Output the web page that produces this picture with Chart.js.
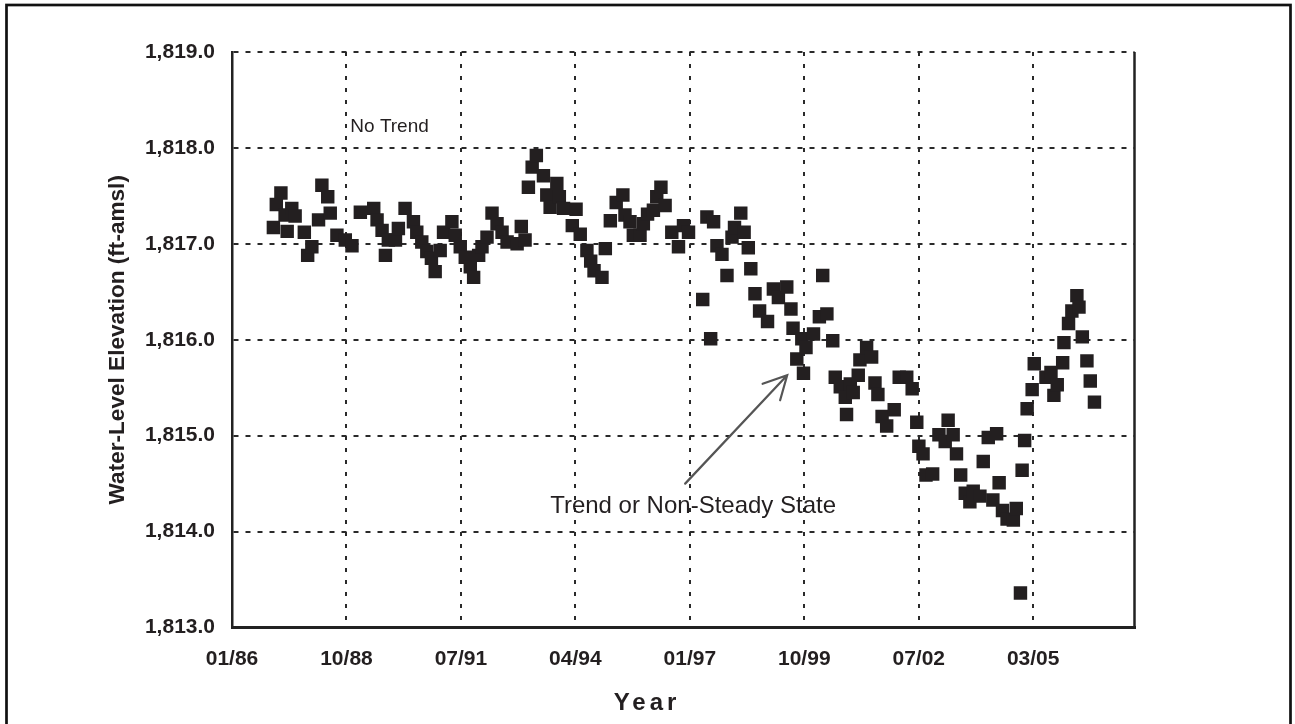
<!DOCTYPE html>
<html>
<head>
<meta charset="utf-8">
<script src="https://cdn.jsdelivr.net/npm/chart.js@4.4.1/dist/chart.umd.min.js"></script>
<style>
  html, body { margin: 0; padding: 0; background: #fff; }
  canvas { display: block; }
</style>
</head>
<body>
<canvas id="wl" width="1295" height="724"></canvas>
<script>
// Monitoring-well record: sample date (decimal year) and water-level elevation (ft-amsl)
const sampleYears = [
  1987.06, 1987.13, 1987.24, 1987.34, 1987.39, 1987.50, 1987.58, 1987.80, 1987.88, 1987.98,
  1988.14, 1988.22, 1988.36, 1988.42, 1988.58, 1988.78, 1988.94, 1989.14, 1989.46, 1989.54,
  1989.66, 1989.74, 1989.81, 1989.98, 1990.05, 1990.21, 1990.41, 1990.49, 1990.61, 1990.73,
  1990.84, 1990.93, 1991.05, 1991.13, 1991.33, 1991.41, 1991.53, 1991.65, 1991.77, 1991.85,
  1991.97, 1992.05, 1992.17, 1992.29, 1992.41, 1992.53, 1992.65, 1992.89, 1992.99, 1993.08,
  1993.16, 1993.25, 1993.35, 1993.52, 1993.60, 1993.68, 1993.84, 1993.90, 1994.00, 1994.21,
  1994.30, 1994.40, 1994.56, 1994.65, 1994.73, 1994.92, 1995.00, 1995.12, 1995.26, 1995.42,
  1995.47, 1995.59, 1995.67, 1995.83, 1995.91, 1996.01, 1996.15, 1996.23, 1996.33, 1996.43,
  1996.59, 1996.75, 1996.87, 1996.99, 1997.33, 1997.43, 1997.52, 1997.59, 1997.67, 1997.79,
  1997.91, 1998.03, 1998.09, 1998.24, 1998.32, 1998.42, 1998.48, 1998.58, 1998.69, 1998.88,
  1999.02, 1999.14, 1999.34, 1999.44, 1999.49, 1999.58, 1999.70, 1999.74, 1999.80, 1999.98,
  2000.12, 2000.20, 2000.30, 2000.44, 2000.50, 2000.62, 2000.74, 2000.77, 2000.86, 2000.93,
  2001.05, 2001.09, 2001.25, 2001.37, 2001.45, 2001.52, 2001.62, 2001.73, 2001.91, 2002.03,
  2002.21, 2002.34, 2002.45, 2002.50, 2002.60, 2002.67, 2002.83, 2002.98, 2003.13, 2003.20,
  2003.32, 2003.40, 2003.50, 2003.61, 2003.72, 2003.80, 2003.96, 2004.04, 2004.16, 2004.27,
  2004.36, 2004.42, 2004.50, 2004.61, 2004.76, 2004.83, 2004.93, 2004.97, 2005.03, 2005.09,
  2005.21, 2005.26, 2005.54, 2005.66, 2005.73, 2005.81, 2005.94, 2005.97, 2006.08, 2006.16,
  2006.28, 2006.33, 2006.41, 2006.52, 2006.60, 2006.70
];
const waterLevels = [
  1817.17, 1817.41, 1817.53, 1817.30, 1817.13, 1817.37, 1817.29, 1817.12, 1816.88, 1816.97,
  1817.25, 1817.61, 1817.49, 1817.32, 1817.09, 1817.04, 1816.98, 1817.33, 1817.37, 1817.25,
  1817.14, 1816.88, 1817.04, 1817.04, 1817.16, 1817.37, 1817.23, 1817.12, 1817.02, 1816.92,
  1816.85, 1816.71, 1816.93, 1817.12, 1817.23, 1817.09, 1816.97, 1816.86, 1816.76, 1816.65,
  1816.88, 1816.97, 1817.07, 1817.32, 1817.21, 1817.12, 1817.02, 1817.00, 1817.18, 1817.04,
  1817.59, 1817.80, 1817.92, 1817.71, 1817.51, 1817.38, 1817.63, 1817.49, 1817.37, 1817.19,
  1817.36, 1817.10, 1816.93, 1816.82, 1816.72, 1816.65, 1816.95, 1817.24, 1817.43, 1817.51,
  1817.30, 1817.23, 1817.09, 1817.09, 1817.21, 1817.31, 1817.35, 1817.49, 1817.59, 1817.40,
  1817.12, 1816.97, 1817.19, 1817.12, 1816.42, 1817.28, 1816.01, 1817.23, 1816.98, 1816.89,
  1816.67, 1817.07, 1817.17, 1817.32, 1817.12, 1816.96, 1816.74, 1816.48, 1816.30, 1816.19,
  1816.53, 1816.44, 1816.55, 1816.32, 1816.12, 1815.80, 1816.01, 1815.65, 1815.92, 1816.06,
  1816.24, 1816.67, 1816.27, 1815.99, 1815.61, 1815.51, 1815.40, 1815.22, 1815.54, 1815.45,
  1815.63, 1815.79, 1815.92, 1815.82, 1815.55, 1815.43, 1815.20, 1815.10, 1815.27, 1815.61,
  1815.61, 1815.49, 1815.14, 1814.89, 1814.81, 1814.59, 1814.60, 1815.01, 1814.94, 1815.16,
  1815.01, 1814.81, 1814.59, 1814.40, 1814.31, 1814.42, 1814.37, 1814.73, 1814.98, 1814.33,
  1815.02, 1814.51, 1814.22, 1814.13, 1814.12, 1814.24, 1813.36, 1814.64, 1814.95, 1815.28,
  1815.48, 1815.75, 1815.61, 1815.66, 1815.42, 1815.53, 1815.76, 1815.97, 1816.17, 1816.30,
  1816.46, 1816.34, 1816.03, 1815.78, 1815.57, 1815.35
];

// Date axis: one labelled tick every 1000 days, starting late January 1986
const dateTickLabels = ['01/86', '10/88', '07/91', '04/94', '01/97', '10/99', '07/02', '03/05'];
const AXIS_START = 1986.07;
const TICK_STEP = 1000 / 365.25;
const AXIS_END = AXIS_START + 7.885 * TICK_STEP;

const LEVEL_MIN = 1813;
const LEVEL_MAX = 1819;

const INK = '#231f20';
const FONT = "'Liberation Sans', Arial, Helvetica, sans-serif";

function fmtLevel(v) {
  const [i, d] = Number(v).toFixed(1).split('.');
  return i.replace(/\B(?=(\d{3})+(?!\d))/g, ',') + '.' + d;
}

const points = sampleYears.map((yr, i) => ({ x: yr, y: waterLevels[i] }));

// Text notes and pointer, placed in data units
const notes = [
  { text: 'No Trend', at: [1988.90, 1818.22], size: 19 },
  { text: 'Trend or Non-Steady State', at: [1993.68, 1814.26], size: 24 }
];
const pointer = { from: [1996.91, 1814.50], to: [1999.35, 1815.63] };

const decor = {
  id: 'decor',
  beforeDraw(chart) {
    const ctx = chart.ctx;
    ctx.save();
    ctx.fillStyle = '#fff';
    ctx.fillRect(0, 0, chart.width, chart.height);
    ctx.restore();
  },
  afterDraw(chart) {
    const { ctx, chartArea: a, scales: { x, y } } = chart;
    ctx.save();

    // right edge of the plot box
    ctx.strokeStyle = '#222';
    ctx.lineWidth = 2.5;
    ctx.beginPath();
    ctx.moveTo(a.right, a.top);
    ctx.lineTo(a.right, a.bottom + 1);
    ctx.stroke();

    // outer frame
    ctx.strokeStyle = '#111';
    ctx.lineWidth = 2.7;
    ctx.strokeRect(6.5, 5, 1284, 760);

    // notes
    ctx.fillStyle = INK;
    ctx.textBaseline = 'middle';
    ctx.textAlign = 'left';
    notes.forEach(n => {
      ctx.font = `${n.size}px ${FONT}`;
      ctx.fillText(n.text, x.getPixelForValue(n.at[0]), y.getPixelForValue(n.at[1]));
    });

    // pointer arrow
    const fx = x.getPixelForValue(pointer.from[0]), fy = y.getPixelForValue(pointer.from[1]);
    const tx = x.getPixelForValue(pointer.to[0]), ty = y.getPixelForValue(pointer.to[1]);
    const back = Math.atan2(fy - ty, fx - tx);
    const head = 26, spread = 0.48;
    ctx.strokeStyle = '#555';
    ctx.lineWidth = 2.2;
    ctx.lineCap = 'round';
    ctx.beginPath();
    ctx.moveTo(fx, fy);
    ctx.lineTo(tx, ty);
    ctx.moveTo(tx + head * Math.cos(back - spread), ty + head * Math.sin(back - spread));
    ctx.lineTo(tx, ty);
    ctx.lineTo(tx + head * Math.cos(back + spread), ty + head * Math.sin(back + spread));
    ctx.stroke();

    // axis titles
    ctx.fillStyle = INK;
    ctx.textAlign = 'center';
    ctx.textBaseline = 'middle';
    ctx.font = `bold 24px ${FONT}`;
    if ('letterSpacing' in ctx) ctx.letterSpacing = '4px';
    ctx.fillText('Year', 647, 703);
    if ('letterSpacing' in ctx) ctx.letterSpacing = '0px';
    ctx.font = `bold 22.6px ${FONT}`;
    ctx.save();
    ctx.translate(118, (a.top + a.bottom) / 2);
    ctx.rotate(-Math.PI / 2);
    ctx.fillText('Water-Level Elevation (ft-amsl)', 0, 0);
    ctx.restore();

    ctx.restore();
  }
};

new Chart(document.getElementById('wl'), {
  type: 'scatter',
  data: {
    datasets: [{
      data: points,
      pointStyle: 'rect',
      pointRadius: 9.5,
      pointHoverRadius: 9.5,
      backgroundColor: INK,
      borderWidth: 0
    }]
  },
  options: {
    responsive: false,
    animation: false,
    events: [],
    layout: { padding: { top: 52, right: 160.5, left: 0, bottom: 0 } },
    plugins: { legend: { display: false }, tooltip: { enabled: false } },
    scales: {
      x: {
        type: 'linear',
        min: AXIS_START,
        max: AXIS_END,
        afterBuildTicks(scale) {
          scale.ticks = dateTickLabels.map((_, i) => ({ value: AXIS_START + i * TICK_STEP }));
        },
        afterFit(scale) { scale.height = 96.5; },
        ticks: {
          autoSkip: false,
          maxRotation: 0,
          padding: 19,
          color: INK,
          font: { family: FONT, size: 21, weight: 'bold' },
          callback: (v, i) => dateTickLabels[i]
        },
        grid: { color: '#2a2a2a', lineWidth: 2, drawTicks: false },
        border: { display: true, color: '#222', width: 3, dash: [4, 8] }
      },
      y: {
        min: LEVEL_MIN,
        max: LEVEL_MAX,
        afterFit(scale) { scale.width = 232; },
        ticks: {
          stepSize: 1,
          padding: 17,
          color: INK,
          font: { family: FONT, size: 21, weight: 'bold' },
          callback: v => fmtLevel(v)
        },
        grid: { color: '#2a2a2a', lineWidth: 2, drawTicks: false },
        border: { display: true, color: '#222', width: 2.5, dash: [5, 7] }
      }
    }
  },
  plugins: [decor]
});
</script>
</body>
</html>
